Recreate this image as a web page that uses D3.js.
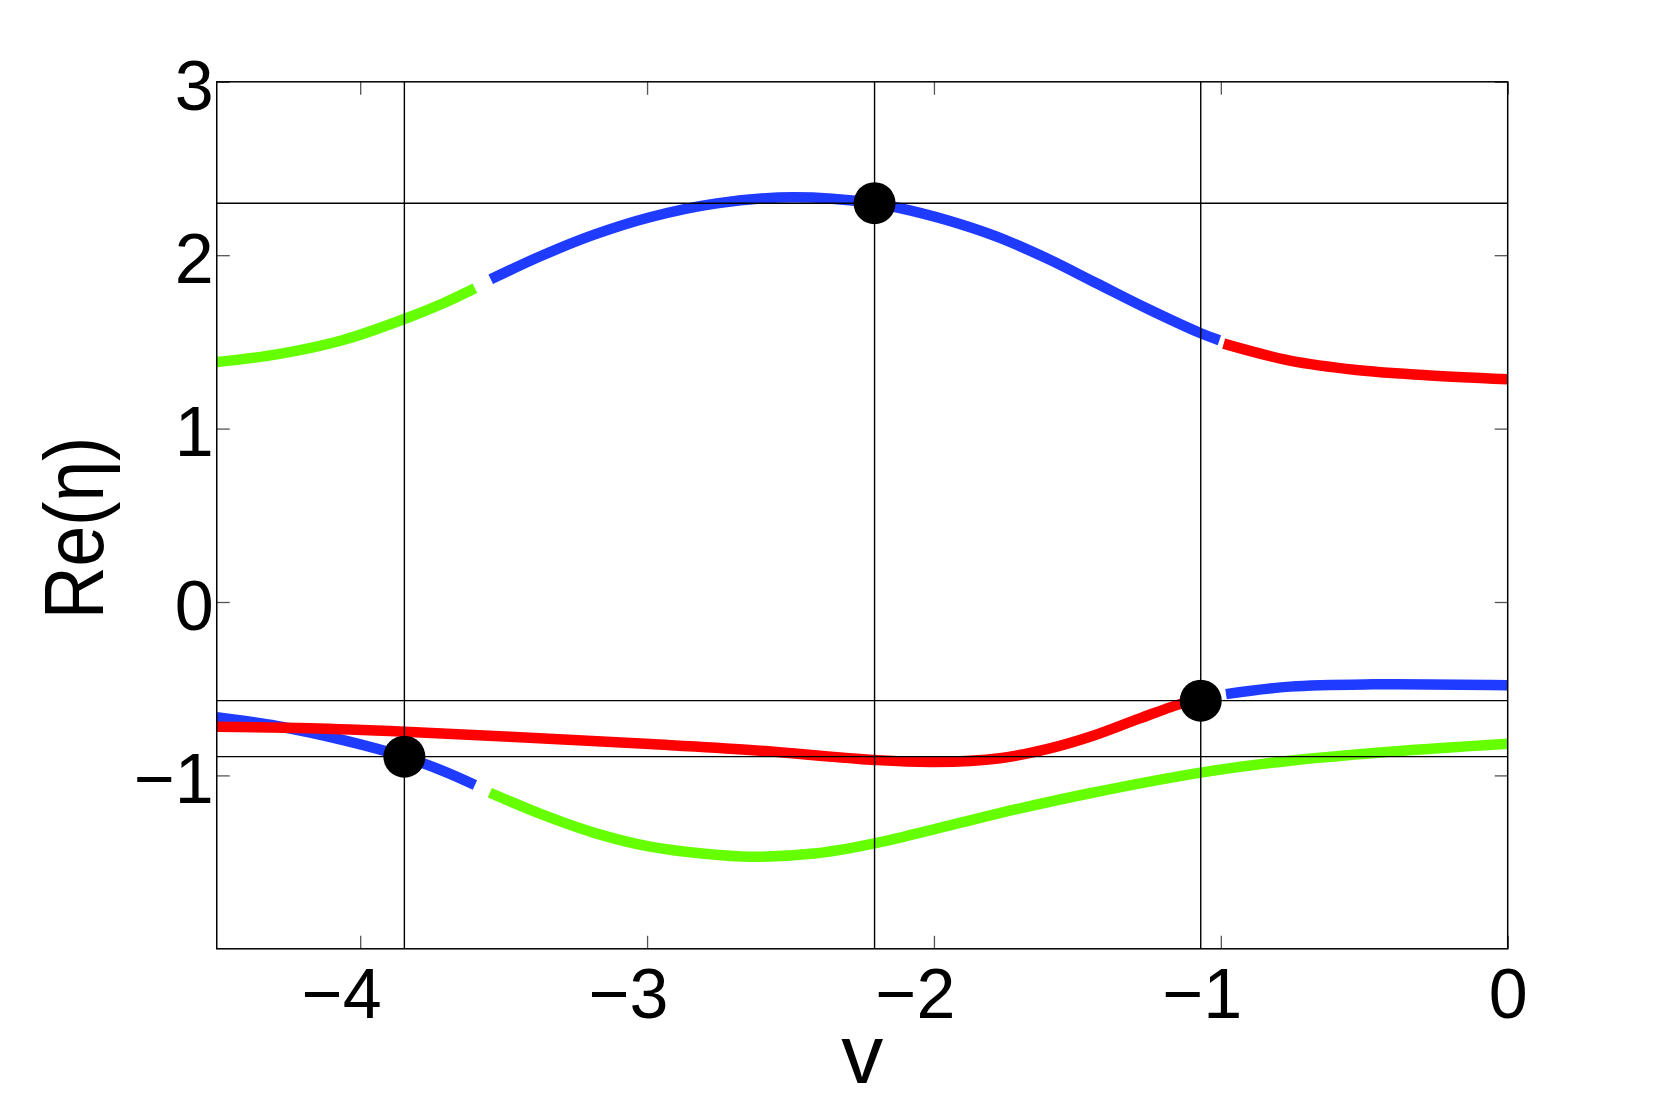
<!DOCTYPE html>
<html>
<head>
<meta charset="utf-8">
<script src="https://cdn.jsdelivr.net/npm/d3@7"></script>
<style>
  html, body { margin: 0; padding: 0; background: #fff; }
  svg { display: block; }
  text { font-family: "Liberation Sans", Arial, Helvetica, sans-serif; fill: #000; }
</style>
</head>
<body>
<svg id="chart" width="1666" height="1104"></svg>
<script>
// ---------- data ----------
const xTickValues = [-4, -3, -2, -1, 0];
const xTickLabels = ["\u22124", "\u22123", "\u22122", "\u22121", "0"];
const yTickValues = [-1, 0, 1, 2, 3];
const yTickLabels = ["\u22121", "0", "1", "2", "3"];

// upper branch
const topGreenV = [-4.5, -4.291, -4.059, -3.846, -3.710, -3.600];
const topGreenY = [1.384, 1.428, 1.511, 1.632, 1.723, 1.809];
const topBlueV = [-3.545, -3.362, -3.187, -2.990, -2.757, -2.490, -2.207, -2.130, -1.956, -1.781, -1.607, -1.433, -1.259, -1.070, -1.005];
const topBlueY = [1.861, 2.001, 2.117, 2.219, 2.299, 2.334, 2.300, 2.276, 2.203, 2.107, 1.982, 1.838, 1.694, 1.550, 1.510];
const topRedV = [-0.990, -0.759, -0.527, -0.295, 0];
const topRedY = [1.490, 1.392, 1.338, 1.309, 1.284];

// lower branches
const lowBlueV = [-4.5, -4.291, -4.059, -3.846, -3.710, -3.600];
const lowBlueY = [-0.665, -0.715, -0.796, -0.892, -0.975, -1.055];
const lowGreenV = [-3.548, -3.362, -3.187, -2.990, -2.800, -2.641, -2.409, -2.207, -1.944, -1.712, -1.456, -1.070, -0.759, -0.410, 0];
const lowGreenY = [-1.100, -1.228, -1.330, -1.411, -1.452, -1.469, -1.449, -1.392, -1.288, -1.195, -1.103, -0.984, -0.915, -0.863, -0.817];
const midRedV = [-4.5, -4.175, -3.846, -3.478, -2.990, -2.641, -2.207, -2.002, -1.770, -1.596, -1.456, -1.282, -1.131, -1.070];
const midRedY = [-0.719, -0.728, -0.748, -0.777, -0.819, -0.853, -0.911, -0.923, -0.901, -0.844, -0.777, -0.671, -0.584, -0.569];
const rightBlueV = [-0.982, -0.759, -0.469, 0];
const rightBlueY = [-0.531, -0.488, -0.475, -0.480];

// reference lines and marked points
const refV = [-3.846, -2.207, -1.070];
const refY = [2.300, -0.569, -0.892];
const dotV = [-3.846, -2.207, -1.070];
const dotY = [-0.892, 2.300, -0.569];

const colBlue = "#1f3bff", colRed = "#ff0000", colGreen = "#66ff00";

// ---------- chart ----------
const svg = d3.select("#chart");
const L = 216.75, R = 1507.7, T = 81.8, B = 948.8;
const x = d3.scaleLinear().domain([-4.5, 0]).range([L, R]);
const y = d3.scaleLinear().domain([-2, 3]).range([B, T]);

svg.append("rect").attr("width", 1666).attr("height", 1104).attr("fill", "#fff");

const segments = [
  [topGreenV, topGreenY, colGreen],
  [topBlueV, topBlueY, colBlue],
  [topRedV, topRedY, colRed],
  [lowBlueV, lowBlueY, colBlue],
  [lowGreenV, lowGreenY, colGreen],
  [midRedV, midRedY, colRed],
  [rightBlueV, rightBlueY, colBlue]
];
const line = d3.line().x(d => x(d[0])).y(d => y(d[1])).curve(d3.curveCatmullRom.alpha(0.5));
const gLines = svg.append("g");
segments.forEach(([vs, ys, c]) => {
  gLines.append("path")
    .datum(vs.map((v, i) => [v, ys[i]]))
    .attr("d", line)
    .attr("fill", "none")
    .attr("stroke", c)
    .attr("stroke-width", 10.5)
    .attr("stroke-linecap", "butt")
    .attr("stroke-linejoin", "round");
});

// reference lines
const gRef = svg.append("g").attr("stroke", "#000").attr("stroke-width", 1.4);
gRef.selectAll("line.v").data(refV).join("line").attr("class", "v")
  .attr("x1", d => x(d)).attr("x2", d => x(d)).attr("y1", T).attr("y2", B);
gRef.selectAll("line.h").data(refY).join("line").attr("class", "h")
  .attr("y1", d => y(d)).attr("y2", d => y(d)).attr("x1", L).attr("x2", R);

// axes
function styleAxis(g) {
  g.select(".domain").remove();
  g.selectAll(".tick line").attr("stroke", "#555").attr("stroke-width", 1.3);
  g.selectAll("text").attr("font-size", 70).attr("fill", "#000")
    .attr("font-family", "'Liberation Sans', Arial, sans-serif");
}
const gxB = svg.append("g").attr("transform", `translate(0,${B})`)
  .call(d3.axisBottom(x).tickValues(xTickValues).tickFormat((d, i) => xTickLabels[i])
    .tickSizeInner(-13).tickSizeOuter(0).tickPadding(20));
styleAxis(gxB);
// negative labels sit slightly left of their ticks, as in the original
gxB.selectAll(".tick text").attr("dx", d => d < 0 ? -19 : 0);
const gxT = svg.append("g").attr("transform", `translate(0,${T})`)
  .call(d3.axisTop(x).tickValues(xTickValues).tickFormat("").tickSizeInner(-13).tickSizeOuter(0));
styleAxis(gxT);
const gyL = svg.append("g").attr("transform", `translate(${L},0)`)
  .call(d3.axisLeft(y).tickValues(yTickValues).tickFormat((d, i) => yTickLabels[i])
    .tickSizeInner(-13).tickSizeOuter(0).tickPadding(3));
styleAxis(gyL);
gyL.selectAll("text").attr("dy", "0.39em");
const gyR = svg.append("g").attr("transform", `translate(${R},0)`)
  .call(d3.axisRight(y).tickValues(yTickValues).tickFormat("").tickSizeInner(-13).tickSizeOuter(0));
styleAxis(gyR);

// frame
svg.append("rect").attr("x", L).attr("y", T).attr("width", R - L).attr("height", B - T)
  .attr("fill", "none").attr("stroke", "#000").attr("stroke-width", 1.5);

// dots
svg.append("g").selectAll("circle").data(dotV).join("circle")
  .attr("cx", d => x(d)).attr("cy", (d, i) => y(dotY[i])).attr("r", 21).attr("fill", "#000");

// axis titles
svg.append("text").attr("x", (L + R) / 2).attr("y", 1083).attr("text-anchor", "middle")
  .attr("font-size", 84).text("v");
svg.append("text").attr("transform", "translate(103,528) rotate(-90) scale(0.87,1)").attr("text-anchor", "middle")
  .attr("font-size", 84).text("Re(\u03b7)");
</script>
</body>
</html>
